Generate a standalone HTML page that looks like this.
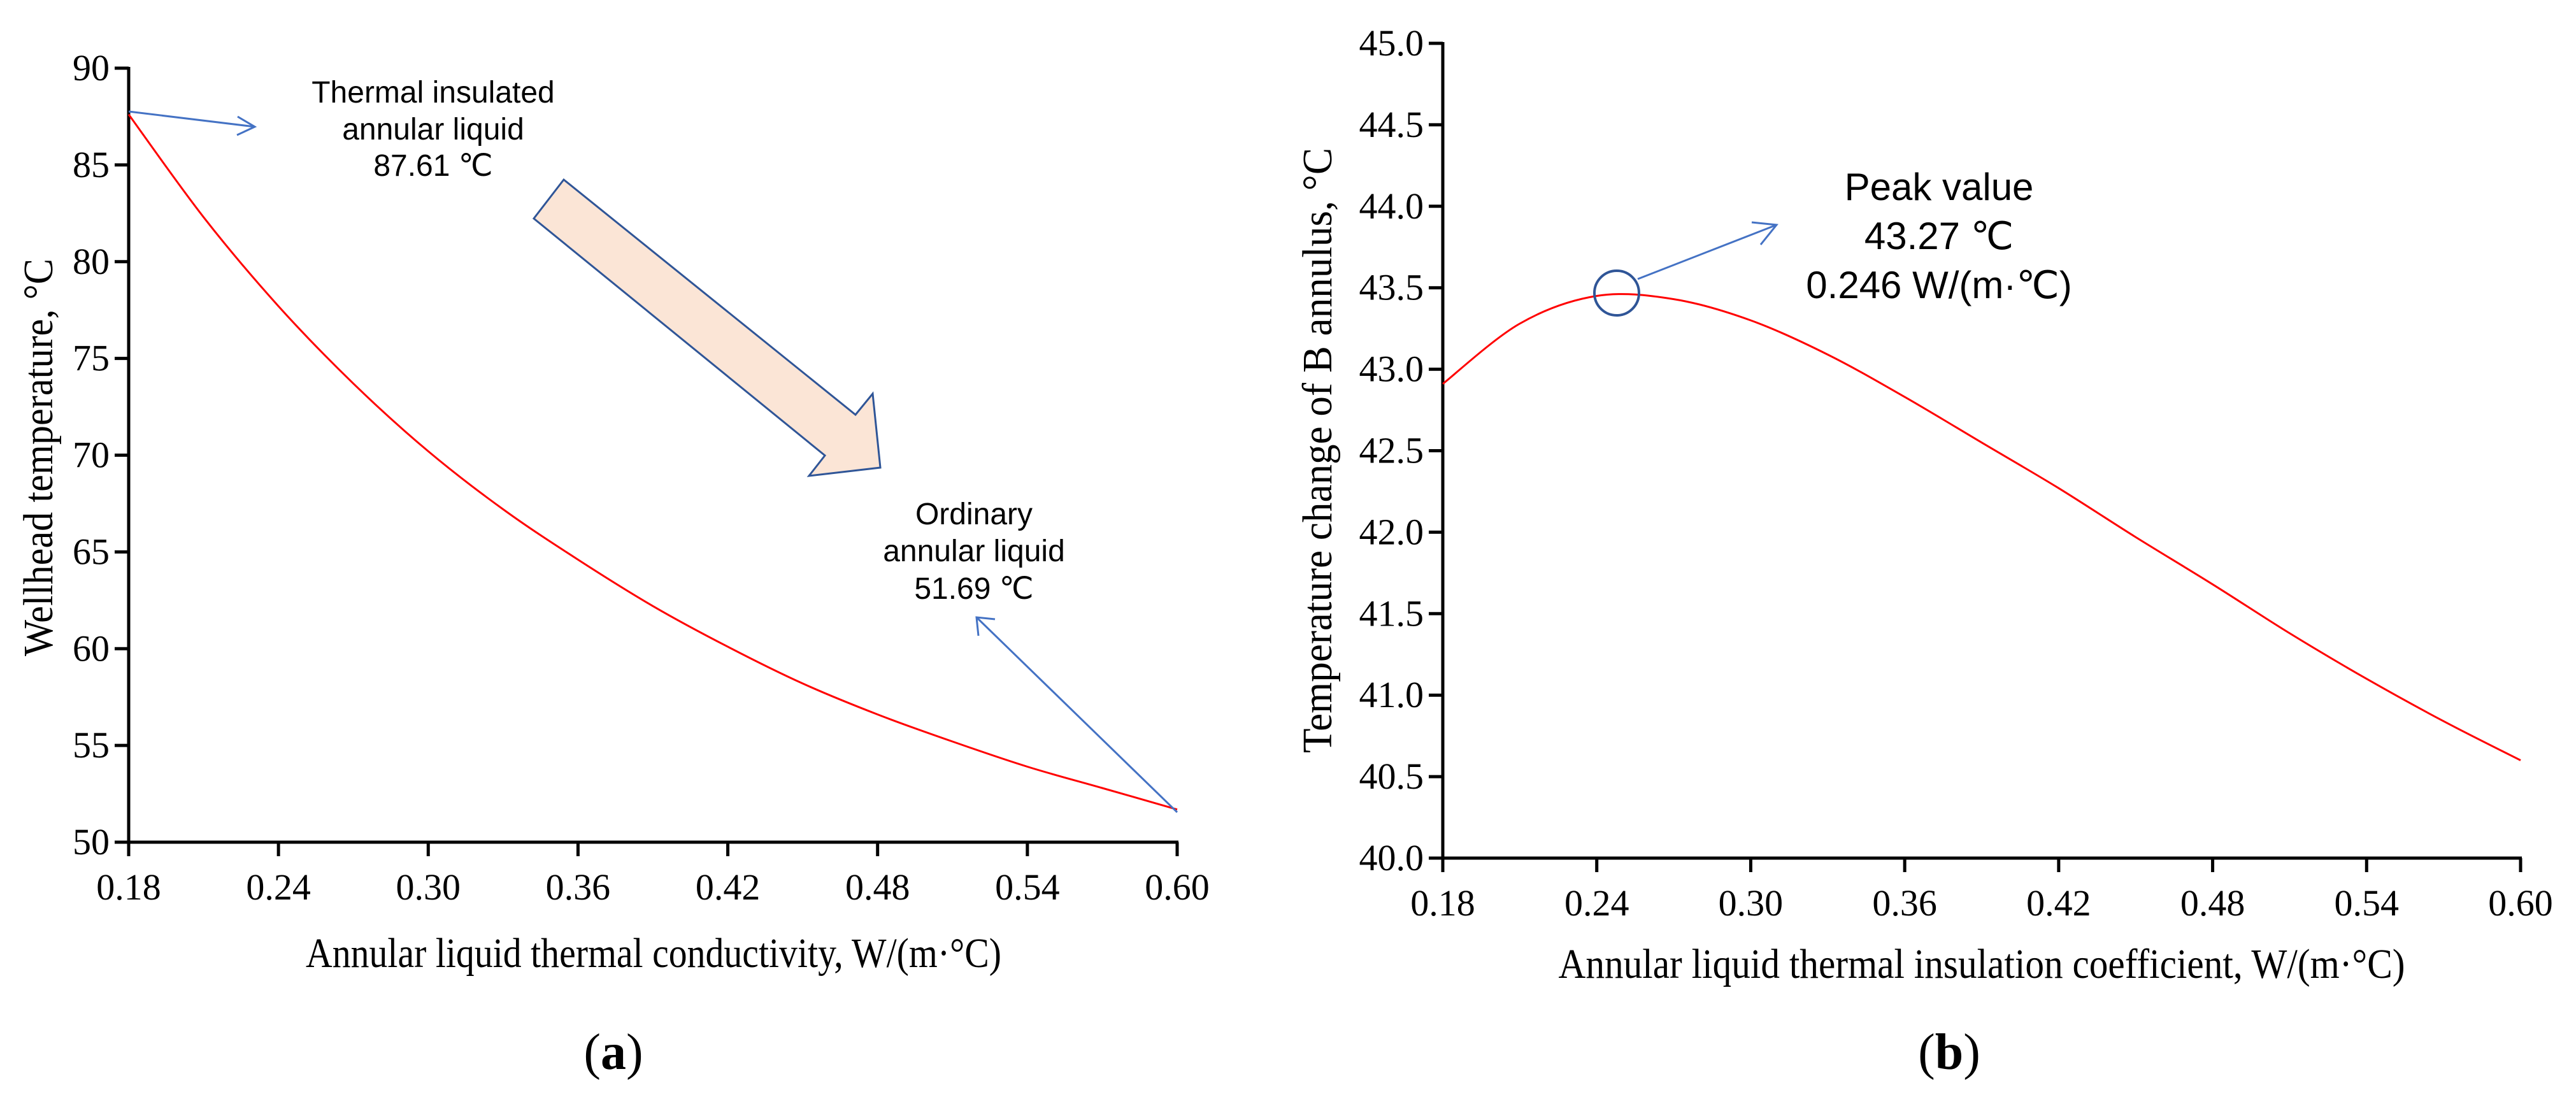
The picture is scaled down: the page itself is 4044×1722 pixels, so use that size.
<!DOCTYPE html>
<html><head><meta charset="utf-8"><style>
html,body{margin:0;padding:0;background:#fff}
svg{display:block}
.tick{font-family:"Liberation Serif",serif;font-size:58px;fill:#000}
.ttl{font-family:"Liberation Serif",serif;font-size:66px;fill:#000}
.ann{font-family:"Liberation Sans",sans-serif;fill:#000}
.lab{font-family:"Liberation Serif",serif;font-size:80px;fill:#000}
</style></head><body>
<svg id="fig" width="4044" height="1722" viewBox="0 0 4044 1722" xmlns="http://www.w3.org/2000/svg">
<g id="chartA"></g>
<g id="chartB"></g>

<g>
<text class="ann" font-size="48" x="680" y="161" text-anchor="middle">Thermal insulated</text>
<text class="ann" font-size="48" x="680" y="219" text-anchor="middle">annular liquid</text>
<text class="ann" font-size="48" x="680" y="276" text-anchor="middle">87.61 ℃</text>
<polyline points="202,175 400,199" fill="none" stroke="#4472c4" stroke-width="3"/>
<polyline points="373,183 400,199 372,212" fill="none" stroke="#4472c4" stroke-width="3"/>
<polygon points="885,282 838,343 1295,715 1270,747 1382,734 1370,618 1343,651" fill="#fbe5d6" stroke="#2f5597" stroke-width="3"/>
<text class="ann" font-size="48" x="1529" y="823" text-anchor="middle">Ordinary</text>
<text class="ann" font-size="48" x="1529" y="881" text-anchor="middle">annular liquid</text>
<text class="ann" font-size="48" x="1529" y="940" text-anchor="middle">51.69 ℃</text>
<polyline points="1848,1275 1533,969" fill="none" stroke="#4472c4" stroke-width="3"/>
<polyline points="1536,998 1533,969 1562,972" fill="none" stroke="#4472c4" stroke-width="3"/>
<text class="lab" x="963" y="1678" text-anchor="middle">(<tspan font-weight="bold">a</tspan>)</text>
</g>

<g>
<circle cx="2538" cy="460" r="35" fill="none" stroke="#2f5597" stroke-width="4"/>
<polyline points="2571,438 2789,353" fill="none" stroke="#4472c4" stroke-width="3"/>
<polyline points="2750,349 2789,353 2764,384" fill="none" stroke="#4472c4" stroke-width="3"/>
<text class="ann" font-size="60" x="3044" y="314" text-anchor="middle">Peak value</text>
<text class="ann" font-size="60" x="3044" y="391" text-anchor="middle">43.27 ℃</text>
<text class="ann" font-size="60" x="3044" y="468" text-anchor="middle">0.246 W/(m·℃)</text>
<text class="lab" x="3060" y="1678" text-anchor="middle">(<tspan font-weight="bold">b</tspan>)</text>
</g>
</svg>
<script>
const xTicks = [0.18, 0.24, 0.30, 0.36, 0.42, 0.48, 0.54, 0.60];
const xTickLabels = ["0.18","0.24","0.30","0.36","0.42","0.48","0.54","0.60"];
const aX = [0.18,0.21,0.24,0.27,0.30,0.33,0.36,0.39,0.42,0.45,0.48,0.51,0.54,0.57,0.60];
const aY = [87.61,82.3,77.7,73.7,70.2,67.2,64.6,62.2,60.1,58.2,56.6,55.2,53.9,52.8,51.69];
const aYTicks = [50,55,60,65,70,75,80,85,90];
const aYTickLabels = ["50","55","60","65","70","75","80","85","90"];
const bX = [0.18,0.21,0.24,0.27,0.30,0.33,0.36,0.39,0.42,0.45,0.48,0.51,0.54,0.57,0.60];
const bY = [42.91,43.28,43.45,43.43,43.30,43.09,42.83,42.55,42.27,41.97,41.68,41.38,41.10,40.84,40.60];
const bYTicks = [40,40.5,41,41.5,42,42.5,43,43.5,44,44.5,45];
const bYTickLabels = ["40.0","40.5","41.0","41.5","42.0","42.5","43.0","43.5","44.0","44.5","45.0"];

const NS = "http://www.w3.org/2000/svg";
function mk(parent, tag, attrs, text){
  const e = document.createElementNS(NS, tag);
  for (const k in attrs) e.setAttribute(k, attrs[k]);
  if (text !== undefined) e.textContent = text;
  parent.appendChild(e);
  return e;
}
function smoothPath(pts){
  let d = "M" + pts[0][0].toFixed(1) + "," + pts[0][1].toFixed(1);
  for (let i = 0; i < pts.length - 1; i++){
    const p0 = pts[Math.max(0,i-1)], p1 = pts[i], p2 = pts[i+1], p3 = pts[Math.min(pts.length-1,i+2)];
    const c1x = p1[0] + (p2[0]-p0[0])/6, c1y = p1[1] + (p2[1]-p0[1])/6;
    const c2x = p2[0] - (p3[0]-p1[0])/6, c2y = p2[1] - (p3[1]-p1[1])/6;
    d += " C" + c1x.toFixed(1) + "," + c1y.toFixed(1) + " " + c2x.toFixed(1) + "," + c2y.toFixed(1) + " " + p2[0].toFixed(1) + "," + p2[1].toFixed(1);
  }
  return d;
}
function drawChart(g, cfg){
  const sx = v => cfg.x0 + (v - cfg.xmin) / (cfg.xmax - cfg.xmin) * (cfg.x1 - cfg.x0);
  const sy = v => cfg.y0 - (v - cfg.ymin) / (cfg.ymax - cfg.ymin) * (cfg.y0 - cfg.y1);
  const yAxis = mk(g, "line", {x1:cfg.x0, y1:cfg.y1-2, x2:cfg.x0, y2:cfg.y0+22, stroke:"#000","stroke-width":5});
  
  
  const xAxis = mk(g, "line", {x1:cfg.x0-22, y1:cfg.y0, x2:cfg.x1+2, y2:cfg.y0, stroke:"#000","stroke-width":5});
  
  
  cfg.yTicks.forEach((v, i) => {
    const y = sy(v);
    const t = mk(g, "line", {x1:cfg.x0-22, y1:y, x2:cfg.x0, y2:y, stroke:"#000","stroke-width":5});
    
    
    const l = mk(g, "text", {x:cfg.x0-30, y:y+19, "text-anchor":"end", "font-family":"'Liberation Serif', serif", "font-size":58, fill:"#000"}, cfg.yLabels[i]);
    
    
  });
  xTicks.forEach((v, i) => {
    const x = sx(v);
    const t = mk(g, "line", {x1:x, y1:cfg.y0, x2:x, y2:cfg.y0+22, stroke:"#000","stroke-width":5});
    
    
    const l = mk(g, "text", {x:x, y:cfg.y0+90, "text-anchor":"middle", "font-family":"'Liberation Serif', serif", "font-size":58, fill:"#000"}, xTickLabels[i]);
    
    
  });
  const pts = cfg.xs.map((v, i) => [sx(v), sy(cfg.ys[i])]);
  const p = mk(g, "path", {d:smoothPath(pts), fill:"none", stroke:"#ff0000", "stroke-width":3});
  
  
  const xt = mk(g, "text", {x:cfg.xtX, y:cfg.xtY, "text-anchor":"middle", "font-family":"'Liberation Serif', serif", "font-size":66, fill:"#000", textLength:cfg.xtLen, lengthAdjust:"spacingAndGlyphs"}, cfg.xTitle);
  
  
  const yt = mk(g, "text", {x:0, y:0, "text-anchor":"middle", "font-family":"'Liberation Serif', serif", "font-size":66, fill:"#000", textLength:cfg.ytLen, lengthAdjust:"spacingAndGlyphs", transform:"translate(" + cfg.ytX + "," + cfg.ytY + ") rotate(-90)"}, cfg.yTitle);
  
  
}
drawChart(document.getElementById("chartA"), {
  x0:202, x1:1848, xmin:0.18, xmax:0.60, y0:1322, y1:107, ymin:50, ymax:90,
  yTicks:aYTicks, yLabels:aYTickLabels, xs:aX, ys:aY,
  xTitle:"Annular liquid thermal conductivity, W/(m·°C)", xtX:1026, xtY:1518, xtLen:1092,
  yTitle:"Wellhead temperature, °C", ytX:82, ytY:718, ytLen:624
});
drawChart(document.getElementById("chartB"), {
  x0:2265, x1:3957, xmin:0.18, xmax:0.60, y0:1347, y1:68, ymin:40, ymax:45,
  yTicks:bYTicks, yLabels:bYTickLabels, xs:bX, ys:bY,
  xTitle:"Annular liquid thermal insulation coefficient, W/(m·°C)", xtX:3111, xtY:1535, xtLen:1329,
  yTitle:"Temperature change of B annulus, °C", ytX:2090, ytY:707, ytLen:950
});
</script>
</body></html>
